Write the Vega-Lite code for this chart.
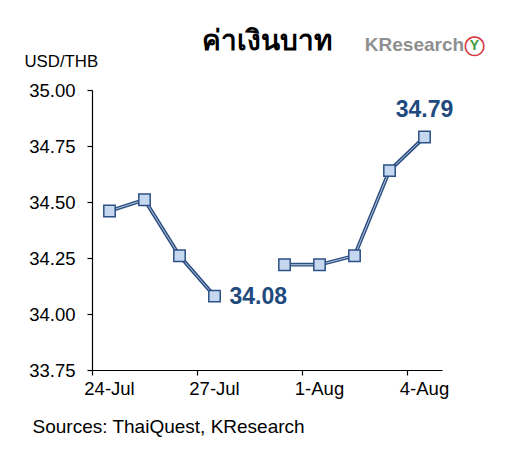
{
  "$schema": "https://vega.github.io/schema/vega-lite/v6.json",
  "width": 350,
  "height": 280,
  "autosize": {"type": "none"},
  "padding": {"left": 92, "top": 90, "right": 66, "bottom": 101},
  "background": "white",
  "config": {
    "view": {"stroke": null},
    "font": "Liberation Sans",
    "title": {"font": "Liberation Sans", "fontSize": 28, "fontWeight": "bold", "color": "black"}
  },
  "title": {"text": "ค่าเงินบาท", "anchor": "middle", "offset": -24},
  "data": {
    "values": [
      {"date": "24-Jul", "rate": 34.46},
      {"date": "25-Jul", "rate": 34.51},
      {"date": "26-Jul", "rate": 34.26},
      {"date": "27-Jul", "rate": 34.08},
      {"date": "28-Jul", "rate": null},
      {"date": "31-Jul", "rate": 34.22},
      {"date": "1-Aug", "rate": 34.22},
      {"date": "2-Aug", "rate": 34.26},
      {"date": "3-Aug", "rate": 34.64},
      {"date": "4-Aug", "rate": 34.79}
    ]
  },
  "encoding": {
    "x": {
      "field": "date",
      "type": "ordinal",
      "sort": null,
      "scale": {
        "type": "band",
        "paddingInner": 0,
        "paddingOuter": 0,
        "domain": ["24-Jul", "25-Jul", "26-Jul", "27-Jul", "28-Jul", "31-Jul", "1-Aug", "2-Aug", "3-Aug", "4-Aug"]
      },
      "axis": {
        "values": ["24-Jul", "27-Jul", "1-Aug", "4-Aug"],
        "bandPosition": 0,
        "labelAngle": 0,
        "labelFontSize": 18.5,
        "labelColor": "black",
        "labelPadding": 4,
        "tickSize": 5,
        "tickColor": "black",
        "domainColor": "black",
        "domainWidth": 1.2,
        "tickWidth": 1.2,
        "grid": false,
        "title": "Sources: ThaiQuest, KResearch",
        "titleFontSize": 19,
        "titleFontWeight": "normal",
        "titleColor": "black",
        "titleAnchor": "start",
        "titleAlign": "left",
        "titleBaseline": "alphabetic",
        "titleX": -60,
        "titleY": 62
      }
    },
    "y": {
      "field": "rate",
      "type": "quantitative",
      "scale": {"domain": [33.75, 35], "zero": false, "nice": false},
      "axis": {
        "values": [33.75, 34, 34.25, 34.5, 34.75, 35],
        "format": ".2f",
        "labelFontSize": 18.5,
        "labelColor": "black",
        "labelPadding": 12,
        "tickSize": 5,
        "tickColor": "black",
        "domainColor": "black",
        "domainWidth": 1.2,
        "tickWidth": 1.2,
        "grid": false,
        "title": "USD/THB",
        "titleAngle": 0,
        "titleFontSize": 16.8,
        "titleFontWeight": "normal",
        "titleColor": "black",
        "titleAlign": "left",
        "titleBaseline": "alphabetic",
        "titleX": -68,
        "titleY": -24
      }
    }
  },
  "layer": [
    {
      "mark": {"type": "line", "color": "#2c4f82", "strokeWidth": 3.8, "invalid": "break-paths-show-domains"}
    },
    {
      "mark": {"type": "line", "color": "#dbe5f3", "strokeWidth": 0.8, "invalid": "break-paths-show-domains"}
    },
    {
      "mark": {"type": "point", "shape": "square", "size": 130, "filled": true, "fill": "#c6d8f0", "stroke": "#2c5085", "strokeWidth": 1.5, "opacity": 1}
    },
    {
      "transform": [{"filter": "datum.date === '27-Jul'"}],
      "mark": {"type": "text", "align": "left", "baseline": "middle", "dx": 15, "dy": 1, "fontSize": 23, "fontWeight": "bold", "color": "#1f4a7e"},
      "encoding": {"text": {"field": "rate", "type": "quantitative", "format": ".2f"}}
    },
    {
      "transform": [{"filter": "datum.date === '4-Aug'"}],
      "mark": {"type": "text", "align": "center", "baseline": "middle", "dy": -27, "fontSize": 23, "fontWeight": "bold", "color": "#1f4a7e"},
      "encoding": {"text": {"field": "rate", "type": "quantitative", "format": ".2f"}}
    },
    {
      "data": {"values": [{"date": "4-Aug", "rate": 35.2, "logo": "KResearch"}]},
      "mark": {"type": "text", "align": "center", "baseline": "middle", "dx": -10, "fontSize": 19, "fontWeight": "bold", "color": "#8f8f8f"},
      "encoding": {"text": {"field": "logo", "type": "nominal"}}
    },
    {
      "data": {"values": [{"date": "4-Aug", "rate": 35.2, "icon": "○"}]},
      "mark": {"type": "text", "font": "DejaVu Sans", "align": "center", "baseline": "middle", "dx": 50, "dy": 0, "fontSize": 26, "color": "#d9363e"},
      "encoding": {"text": {"field": "icon", "type": "nominal"}}
    },
    {
      "data": {"values": [{"date": "4-Aug", "rate": 35.2, "icon": "Y"}]},
      "mark": {"type": "text", "align": "center", "baseline": "middle", "dx": 50, "dy": 1, "fontSize": 14, "fontWeight": "bold", "color": "#3f9a3a"},
      "encoding": {"text": {"field": "icon", "type": "nominal"}}
    }
  ]
}
